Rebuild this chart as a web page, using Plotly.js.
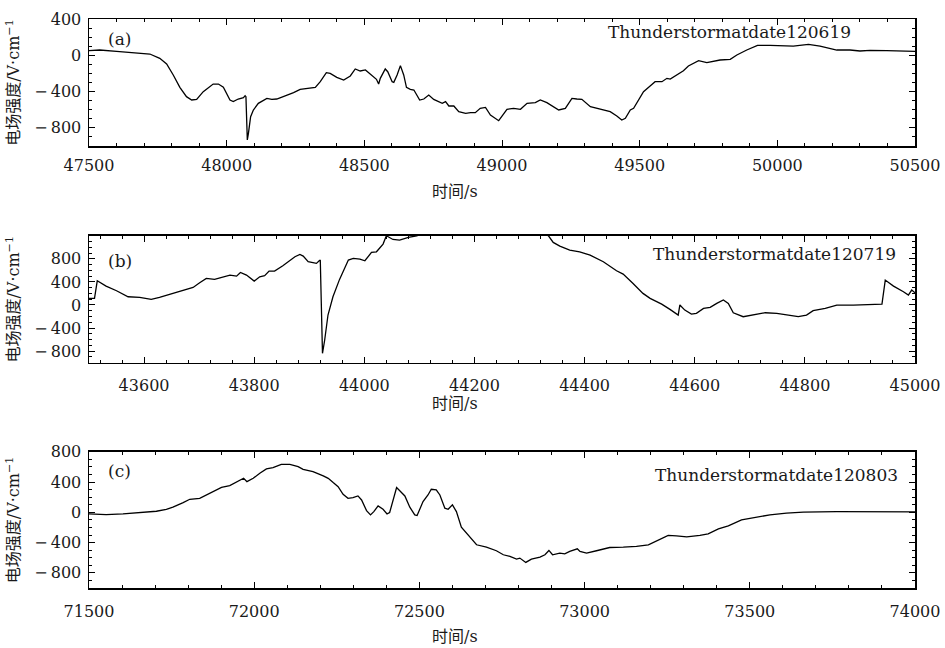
<!DOCTYPE html>
<html>
<head>
<meta charset="utf-8">
<script src="https://cdn.plot.ly/plotly-3.0.1.min.js"></script>
<style>html,body{margin:0;padding:0;background:#fff;}#chart{width:945px;height:648px;}</style>
</head>
<body>
<div id="chart"></div>
<script>
// ---------- data: panel (a) 2012-06-19 ----------
const timeA = [47500,47539,47600,47660,47721,47757,47782,47806,47830,47854,47873,47891,47915,47951,47970,47988,48012,48024,48042,48061,48067,48070,48075,48079,48087,48097,48115,48146,48164,48182,48206,48243,48267,48291,48322,48340,48362,48376,48400,48425,48449,48467,48485,48504,48528,48544,48552,48558,48576,48585,48601,48607,48619,48631,48643,48653,48667,48680,48701,48716,48734,48752,48783,48795,48807,48825,48843,48868,48886,48903,48921,48940,48958,48988,49018,49042,49067,49091,49121,49139,49163,49206,49230,49254,49272,49290,49321,49345,49369,49393,49417,49435,49448,49466,49478,49496,49514,49538,49556,49581,49599,49611,49635,49659,49677,49714,49744,49768,49792,49829,49853,49889,49928,49974,50022,50058,50113,50155,50216,50264,50300,50337,50397,50446,50500];
const fieldA = [51,58,44,29,14,-34,-96,-217,-353,-456,-493,-486,-401,-317,-317,-353,-493,-511,-482,-467,-445,-456,-934,-860,-677,-603,-530,-475,-486,-482,-456,-412,-375,-364,-353,-291,-192,-199,-243,-273,-228,-151,-173,-162,-228,-265,-317,-254,-151,-181,-291,-298,-217,-114,-217,-353,-375,-383,-493,-482,-438,-486,-530,-511,-559,-559,-622,-640,-633,-633,-585,-574,-658,-721,-596,-585,-596,-530,-522,-493,-522,-603,-585,-475,-482,-486,-566,-585,-596,-622,-669,-713,-695,-603,-585,-493,-401,-339,-291,-291,-254,-262,-217,-170,-118,-59,-81,-70,-52,-45,3,58,110,110,102,102,121,102,58,58,47,55,51,47,44];

// ---------- data: panel (b) 2012-07-19 ----------
const timeB = [43500,43510,43515,43531,43550,43571,43592,43613,43628,43653,43677,43689,43701,43713,43728,43743,43756,43768,43775,43786,43800,43810,43819,43827,43837,43852,43865,43874,43883,43889,43898,43907,43913,43918,43920,43924,43928,43934,43943,43955,43971,43980,43992,44001,44013,44022,44034,44040,44052,44064,44080,44095,44150,44250,44334,44343,44355,44373,44391,44410,44434,44458,44470,44488,44506,44519,44540,44555,44570,44573,44582,44594,44603,44616,44628,44640,44652,44661,44670,44688,44703,44728,44749,44767,44788,44803,44815,44837,44858,44888,44918,44940,44946,44961,44979,44988,44994,45000];
const fieldB = [115,115,420,328,247,143,132,97,132,201,270,305,386,461,444,478,519,501,565,519,415,490,507,588,588,680,779,836,877,848,750,738,721,767,779,-838,-607,-174,143,444,779,807,796,767,911,923,1056,1200,1136,1125,1171,1200,1380,1380,1205,1085,1021,952,923,865,750,594,536,374,201,115,16,-76,-174,1,-88,-157,-145,-59,-41,28,86,28,-134,-203,-174,-134,-145,-174,-203,-174,-99,-59,-1,-1,10,16,432,328,230,172,259,213];

// ---------- data: panel (c) 2012-08-03 ----------
const timeC = [71500,71552,71603,71653,71704,71734,71754,71785,71805,71835,71855,71880,71901,71926,71951,71968,71978,71997,72017,72037,72057,72082,72108,72133,72148,72178,72209,72224,72239,72254,72269,72284,72299,72314,72325,72340,72352,72362,72375,72390,72402,72410,72431,72441,72456,72471,72486,72493,72503,72511,72526,72536,72551,72562,72577,72587,72600,72612,72627,72652,72673,72703,72733,72754,72774,72794,72804,72822,72839,72865,72880,72892,72903,72925,72940,72955,72978,72986,73006,73036,73076,73117,73157,73193,73228,73253,73278,73309,73349,73374,73405,73435,73475,73521,73561,73611,73662,73763,73864,74000];
const fieldC = [-21,-30,-21,-3,14,40,67,128,172,185,229,282,330,352,405,449,405,449,515,572,589,633,633,602,567,537,480,449,392,339,238,185,194,216,163,22,-34,9,84,40,-21,-3,326,286,216,67,-34,-43,67,141,229,304,295,229,54,40,98,9,-197,-319,-429,-460,-508,-561,-583,-618,-605,-662,-618,-592,-561,-504,-561,-539,-548,-517,-482,-517,-539,-508,-465,-460,-451,-429,-355,-306,-311,-324,-306,-284,-218,-179,-100,-65,-34,-12,1,8,6,5];

// ---------- ticks & labels ----------
const xTicksA = [47500,48000,48500,49000,49500,50000,50500];
const xTicksB = [43600,43800,44000,44200,44400,44600,44800,45000];
const xTicksC = [71500,72000,72500,73000,73500,74000];
const yTicksA = [-800,-400,0,400];
const yTicksB = [-800,-400,0,400,800];
const yTicksC = [-800,-400,0,400,800];
const panelLabels = ['(a)','(b)','(c)'];
const stormLabels = ['Thunderstormatdate120619','Thunderstormatdate120719','Thunderstormatdate120803'];
const xTitle = '时间/s';
const yTitle = '电场强度/V·cm<sup>−1</sup>';

// ---------- styling ----------
const FONT = 'DejaVu Serif, Noto Sans CJK SC, serif';
const TXT = '#1a1a1a';
function fmtY(v){ return v < 0 ? '\u2212\u2009' + Math.abs(v) : String(v); }

function xAxis(domainAnchor, ticks, range, minorStep, standoff){
  return {
    anchor: domainAnchor, range: range, showgrid:false, zeroline:false,
    showline:true, linecolor:'#000', linewidth:1.5, mirror:'allticks',
    ticks:'inside', ticklen:6, tickwidth:1, tickcolor:'#000',
    tickmode:'array', tickvals:ticks, ticktext:ticks.map(String),
    ticklabelstandoff: standoff,
    tickfont:{family:FONT, size:16, color:TXT},
    minor:{tickmode:'linear', tick0:0, dtick:minorStep, ticks:'inside', ticklen:3, tickcolor:'#000', tickwidth:1}
  };
}
function yAxis(domainAnchor, domain, ticks, range){
  return {
    anchor: domainAnchor, domain: domain, range: range, showgrid:false, zeroline:false,
    showline:true, linecolor:'#000', linewidth:1.5, mirror:'allticks',
    ticks:'inside', ticklen:6, tickwidth:1, tickcolor:'#000',
    tickmode:'array', tickvals:ticks, ticktext:ticks.map(fmtY),
    ticklabelstandoff: 3,
    tickfont:{family:FONT, size:16, color:TXT},
    minor:{tickmode:'linear', tick0:0, dtick:100, ticks:'inside', ticklen:3, tickcolor:'#000', tickwidth:1},
    title:{text:yTitle, font:{family:FONT, size:16, color:TXT}, standoff:10}
  };
}

const lineStyle = {color:'#000', width:1.3};
const traces = [
  {x:timeA, y:fieldA, xaxis:'x', yaxis:'y', type:'scatter', mode:'lines', line:lineStyle, name:'120619'},
  {x:timeB, y:fieldB, xaxis:'x2', yaxis:'y2', type:'scatter', mode:'lines', line:lineStyle, name:'120719'},
  {x:timeC, y:fieldC, xaxis:'x3', yaxis:'y3', type:'scatter', mode:'lines', line:lineStyle, name:'120803'}
];

const annFont = {family:FONT, size:17, color:TXT};
const panelY = [0.9649, 0.5747, 0.2062];
const stormX = [0.925, 0.9794, 0.9818];
const stormY = [0.9772, 0.587, 0.1986];
const xTitleY = [0.6977, 0.3234, -0.0861];
const annotations = [];
for (let i=0;i<3;i++){
  annotations.push({xref:'paper', yref:'paper', x:0.0206, y:panelY[i], xanchor:'left', yanchor:'middle', text:panelLabels[i], showarrow:false, font:annFont});
  annotations.push({xref:'paper', yref:'paper', x:stormX[i], y:stormY[i], xanchor:'right', yanchor:'middle', text:stormLabels[i], showarrow:false, font:annFont});
  annotations.push({xref:'paper', yref:'paper', x:0.4431, y:xTitleY[i], xanchor:'center', yanchor:'middle', text:xTitle, showarrow:false, font:{family:FONT, size:16, color:TXT}});
}

const layout = {
  width:945, height:648,
  margin:{l:89, r:30, t:19, b:60},
  paper_bgcolor:'#fff', plot_bgcolor:'#fff',
  showlegend:false,
  xaxis: xAxis('y', xTicksA, [47500,50500], 100, 4),
  yaxis: yAxis('x', [0.7768,1], yTicksA, [-1000,400]),
  xaxis2: xAxis('y2', xTicksB, [43500,45000], 40, 8),
  yaxis2: yAxis('x2', [0.396,0.619], yTicksB, [-1000,1200]),
  xaxis3: xAxis('y3', xTicksC, [71500,74000], 100, 8),
  yaxis3: yAxis('x3', [0,0.2395], yTicksC, [-1000,800]),
  annotations: annotations
};

Plotly.newPlot('chart', traces, layout, {staticPlot:true, displayModeBar:false});
</script>
</body>
</html>
